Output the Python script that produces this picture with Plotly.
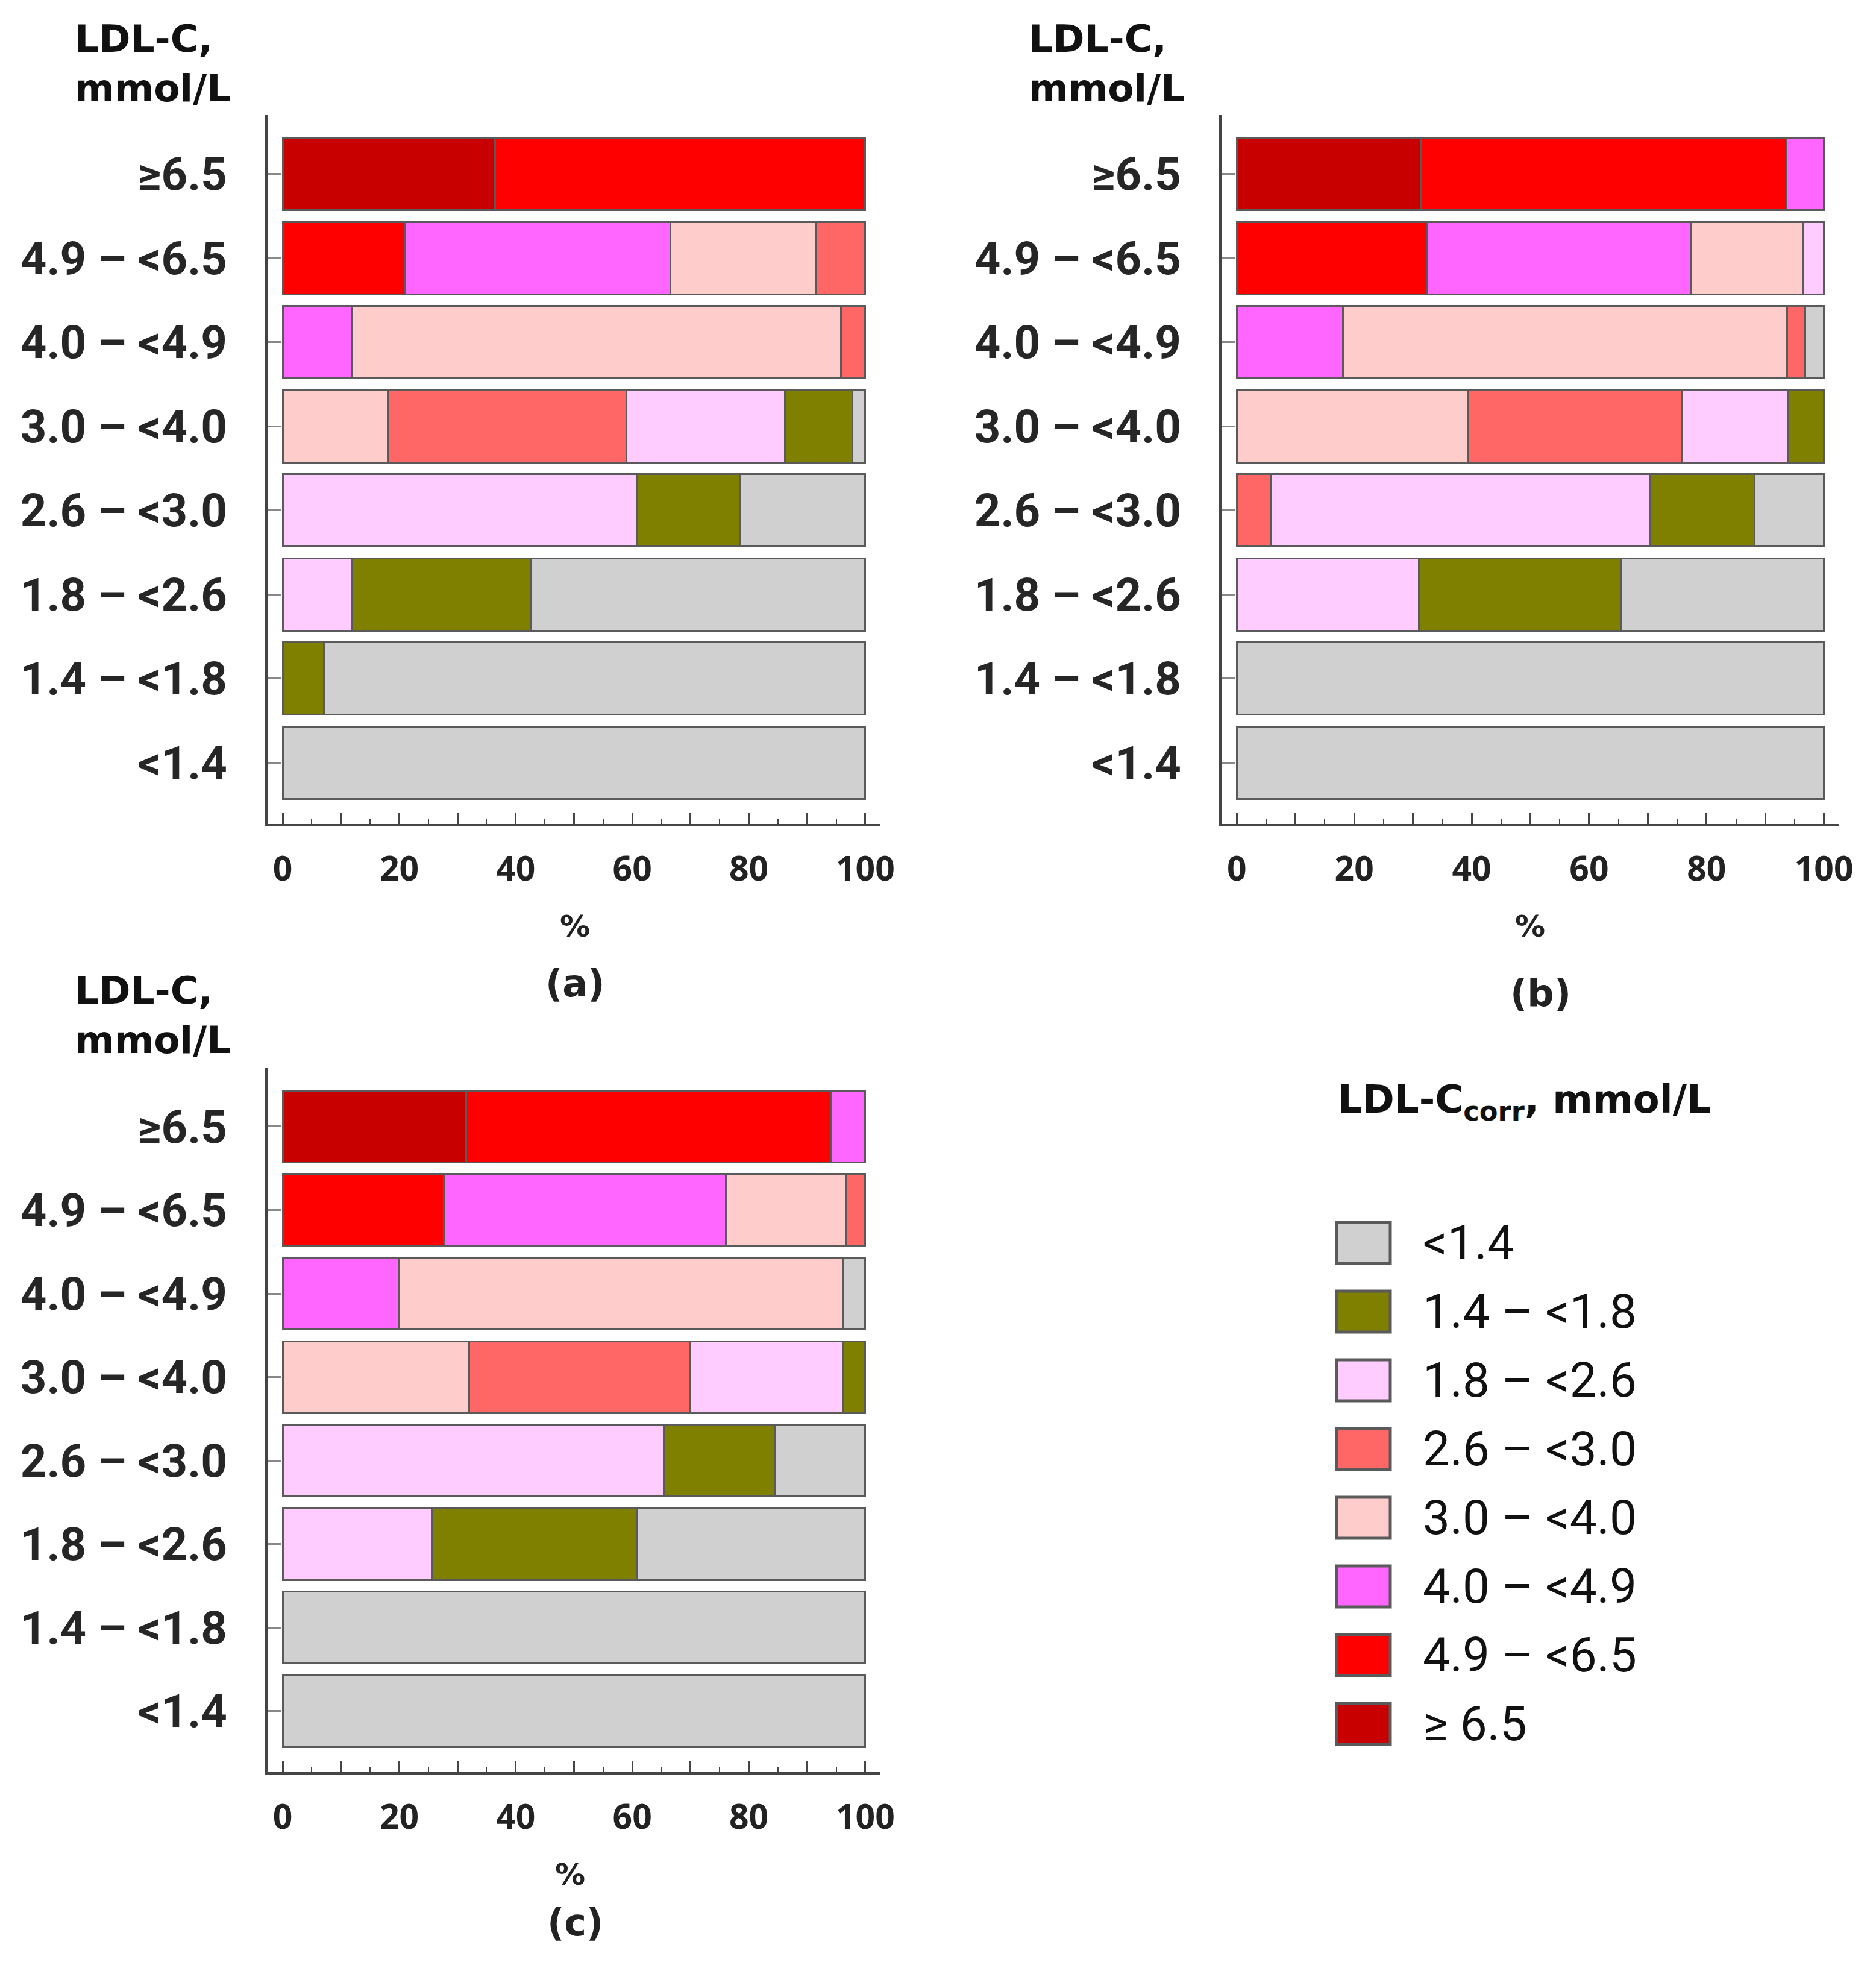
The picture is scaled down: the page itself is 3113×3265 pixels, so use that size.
import plotly.graph_objects as go

W, H = 3113, 3265

# Row categories (bottom to top) - LDL-C, mmol/L
rows = ["<1.4", "1.4 – <1.8", "1.8 – <2.6", "2.6 – <3.0",
        "3.0 – <4.0", "4.0 – <4.9", "4.9 – <6.5", "≥6.5"]

# Series (LDL-Ccorr categories), stacking order left -> right
series_names = ["≥ 6.5", "4.9 – <6.5", "4.0 – <4.9", "3.0 – <4.0",
                "2.6 – <3.0", "1.8 – <2.6", "1.4 – <1.8", "<1.4"]
series_colors = ["#C80000", "#FF0000", "#FF66FF", "#FFCCCC",
                 "#FF6666", "#FFCCFF", "#808000", "#D0D0D0"]

# Panel (a), values in % per row (bottom to top)
a_ge65  = [0, 0, 0, 0, 0, 0, 0, 36.4]
a_49_65 = [0, 0, 0, 0, 0, 0, 20.9, 63.6]
a_40_49 = [0, 0, 0, 0, 0, 11.9, 45.7, 0]
a_30_40 = [0, 0, 0, 0, 18.0, 83.9, 25.0, 0]
a_26_30 = [0, 0, 0, 0, 41.0, 4.2, 8.4, 0]
a_18_26 = [0, 0, 11.9, 60.8, 27.2, 0, 0, 0]
a_14_18 = [0, 7.1, 30.8, 17.7, 11.6, 0, 0, 0]
a_lt14  = [100, 92.9, 57.3, 21.5, 2.2, 0, 0, 0]

# Panel (b)
b_ge65  = [0, 0, 0, 0, 0, 0, 0, 31.3]
b_49_65 = [0, 0, 0, 0, 0, 0, 32.3, 62.3]
b_40_49 = [0, 0, 0, 0, 0, 18.1, 45.0, 6.4]
b_30_40 = [0, 0, 0, 0, 39.3, 75.6, 19.2, 0]
b_26_30 = [0, 0, 0, 5.8, 36.5, 3.1, 0, 0]
b_18_26 = [0, 0, 31.0, 64.6, 18.0, 0, 3.5, 0]
b_14_18 = [0, 0, 34.4, 17.8, 6.2, 0, 0, 0]
b_lt14  = [100, 100, 34.6, 11.8, 0, 3.2, 0, 0]

# Panel (c)
c_ge65  = [0, 0, 0, 0, 0, 0, 0, 31.5]
c_49_65 = [0, 0, 0, 0, 0, 0, 27.7, 62.6]
c_40_49 = [0, 0, 0, 0, 0, 19.9, 48.4, 5.9]
c_30_40 = [0, 0, 0, 0, 32.0, 76.2, 20.5, 0]
c_26_30 = [0, 0, 0, 0, 37.9, 0, 3.4, 0]
c_18_26 = [0, 0, 25.6, 65.4, 26.2, 0, 0, 0]
c_14_18 = [0, 0, 35.3, 19.2, 3.9, 0, 0, 0]
c_lt14  = [100, 100, 39.1, 15.4, 0, 3.9, 0, 0]

x_label_ticks = [0, 20, 40, 60, 80, 100]
x_mid_ticks = [10, 30, 50, 70, 90]
panel_labels = ["(a)", "(b)", "(c)"]
header_text = "LDL-C,<br>mmol/L"
legend_title = "LDL-C<sub>corr</sub>, mmol/L"

panels = [
    [a_ge65, a_49_65, a_40_49, a_30_40, a_26_30, a_18_26, a_14_18, a_lt14],
    [b_ge65, b_49_65, b_40_49, b_30_40, b_26_30, b_18_26, b_14_18, b_lt14],
    [c_ge65, c_49_65, c_40_49, c_30_40, c_26_30, c_18_26, c_14_18, c_lt14],
]

def px_x(p):
    return p / W

def px_y(p):
    return 1 - p / H

x_domains = [(436, 1453), (2019, 3044), (436, 1453)]
y_domains = [(183, 1359), (183, 1359), (1764, 2932)]

fig = go.Figure()
AX_COLOR = "#454545"
EDGE = "#5a5a5a"
TICK_FONT = "Roboto, Liberation Sans, sans-serif"
BOLD_FONT = "DejaVu Sans, Open Sans, sans-serif"

for pi, pdata in enumerate(panels):
    xa = "x" if pi == 0 else f"x{pi+1}"
    ya = "y" if pi == 0 else f"y{pi+1}"
    for si, vals in enumerate(pdata):
        fig.add_trace(go.Bar(
            x=[v if v > 0 else None for v in vals],
            y=rows,
            orientation="h",
            name=series_names[si],
            marker=dict(color=series_colors[si], line=dict(color=EDGE, width=3)),
            xaxis=xa, yaxis=ya,
            showlegend=False,
        ))
    xkey = "xaxis" if pi == 0 else f"xaxis{pi+1}"
    ykey = "yaxis" if pi == 0 else f"yaxis{pi+1}"
    okey = f"xaxis{pi+4}"
    xd = x_domains[pi]
    yd = y_domains[pi]
    fig.update_layout(**{
        xkey: dict(
            domain=[px_x(xd[0]), px_x(xd[1])],
            anchor=ya, range=[-2.6, 102.6],
            showgrid=False, zeroline=False, automargin=False,
            showline=True, linecolor=AX_COLOR, linewidth=4,
            tickmode="array", tickvals=x_label_ticks,
            ticks="inside", ticklen=18, tickwidth=3, tickcolor=AX_COLOR,
            minor=dict(dtick=5, tick0=0, ticks="inside", ticklen=9,
                       tickwidth=2, tickcolor=AX_COLOR, showgrid=False),
            tickfont=dict(family="Open Sans, DejaVu Sans, sans-serif", size=57,
                          color="#222", weight=700),
            ticklabelstandoff=22,
            fixedrange=True,
        ),
        okey: dict(
            overlaying=xa, anchor=ya, side="bottom",
            range=[-2.6, 102.6],
            showgrid=False, zeroline=False, automargin=False, showline=False,
            tickmode="array", tickvals=x_mid_ticks, showticklabels=False,
            ticks="inside", ticklen=18, tickwidth=3, tickcolor=AX_COLOR,
            fixedrange=True,
        ),
        ykey: dict(
            domain=[px_y(yd[1]), px_y(yd[0])],
            anchor=xa, type="category",
            categoryorder="array", categoryarray=rows,
            range=[-0.73, 7.7],
            showgrid=False, zeroline=False, automargin=False,
            showline=True, linecolor=AX_COLOR, linewidth=4,
            ticks="inside", ticklen=22, tickwidth=3, tickcolor="#888888",
            tickfont=dict(family=TICK_FONT, size=76, color="#262626", weight=700),
            ticklabelstandoff=48,
            fixedrange=True,
        ),
    })
    # invisible trace so the overlay axis is drawn
    fig.add_trace(go.Bar(x=[None], y=[rows[0]], orientation="h",
                         xaxis=f"x{pi+4}", yaxis=ya, showlegend=False,
                         hoverinfo="skip"))

annotations = []
pct_pos = [(946, 1529), (2531, 1529), (938, 3102)]
lab_pos = [(946, 1623), (2548, 1639), (946, 3181)]
hdr_pos = [(114, 98), (1697, 98), (114, 1676)]
for pi in range(3):
    annotations.append(dict(text="%", x=px_x(pct_pos[pi][0]), y=px_y(pct_pos[pi][1]),
                            xref="paper", yref="paper", showarrow=False,
                            xanchor="center", yanchor="middle",
                            font=dict(family=BOLD_FONT, size=50, color="#222", weight=700)))
    annotations.append(dict(text=panel_labels[pi], x=px_x(lab_pos[pi][0]), y=px_y(lab_pos[pi][1]),
                            xref="paper", yref="paper", showarrow=False,
                            xanchor="center", yanchor="middle",
                            font=dict(family=BOLD_FONT, size=62, color="#222", weight=700)))
    annotations.append(dict(text=header_text, x=px_x(hdr_pos[pi][0]), y=px_y(hdr_pos[pi][1]),
                            xref="paper", yref="paper", showarrow=False,
                            xanchor="left", yanchor="middle", align="left",
                            font=dict(family=BOLD_FONT, size=63, color="#111", weight=700)))

# legend (custom, lowest category at top)
annotations.append(dict(text=legend_title, x=px_x(2210), y=px_y(1820),
                        xref="paper", yref="paper", showarrow=False,
                        xanchor="left", yanchor="middle",
                        font=dict(family=BOLD_FONT, size=64, color="#111", weight=700)))
shapes = []
leg_order = list(range(len(series_names)))[::-1]
for k, si in enumerate(leg_order):
    cy = 2054 + 114 * k
    shapes.append(dict(type="rect", xref="paper", yref="paper",
                       x0=px_x(2210), x1=px_x(2299), y0=px_y(cy + 34), y1=px_y(cy - 34),
                       fillcolor=series_colors[si], line=dict(color=EDGE, width=5)))
    annotations.append(dict(text=series_names[si], x=px_x(2351), y=px_y(cy),
                            xref="paper", yref="paper", showarrow=False,
                            xanchor="left", yanchor="middle",
                            font=dict(family=TICK_FONT, size=80, color="#111")))

fig.update_layout(
    width=W, height=H,
    margin=dict(l=0, r=0, t=0, b=0, autoexpand=False),
    barmode="stack", bargap=0.14,
    plot_bgcolor="rgba(0,0,0,0)", paper_bgcolor="white",
    annotations=annotations, shapes=shapes,
    showlegend=False,
)

fig.write_html("out.html")
